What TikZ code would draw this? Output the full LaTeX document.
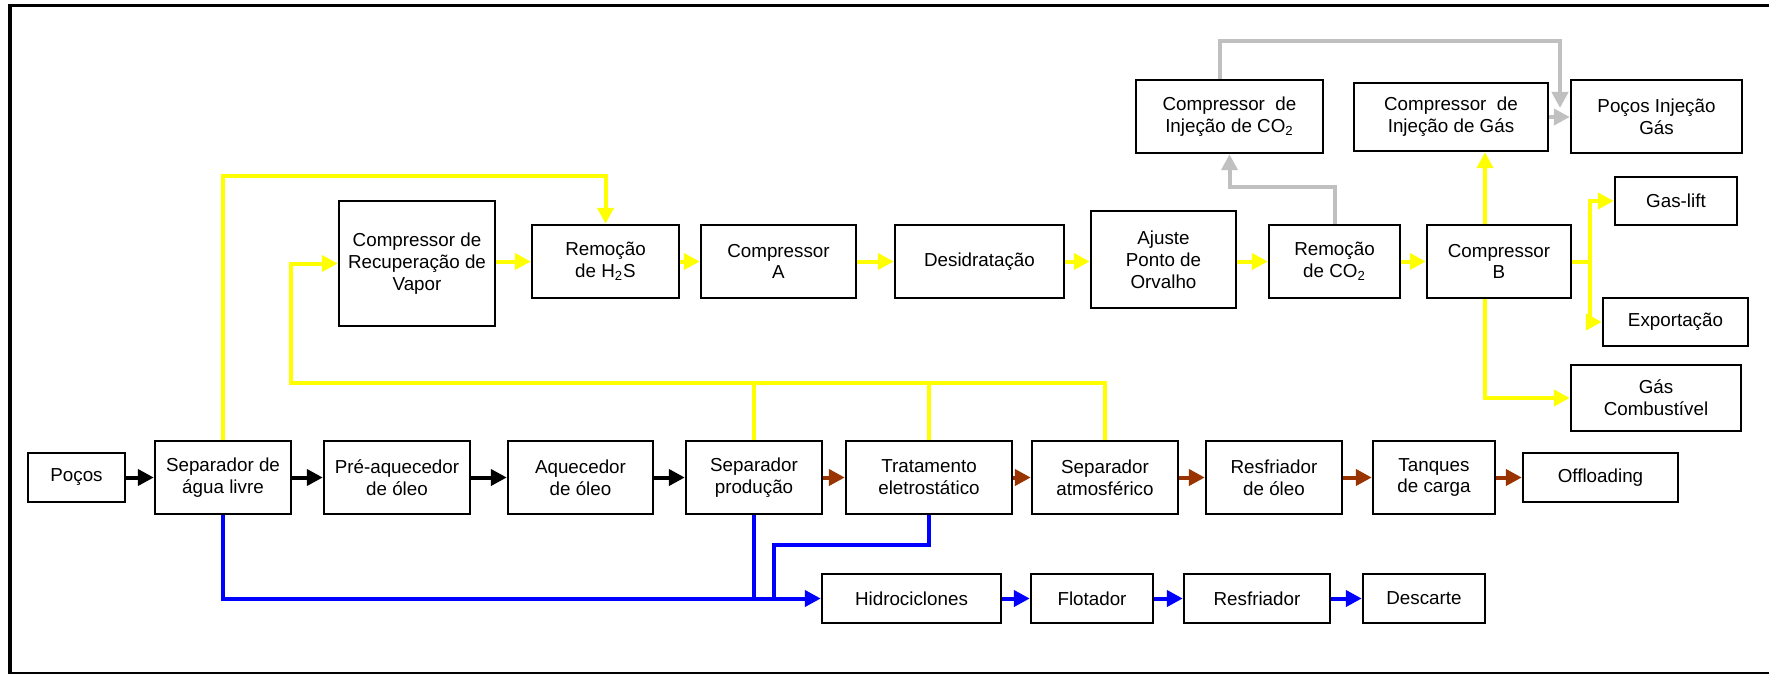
\documentclass[tikz,border=0pt]{standalone}
\usepackage{fontspec}
\setmainfont{Liberation Sans}
\usepackage{tikz}
\usetikzlibrary{arrows.meta,calc,positioning}
\definecolor{oilbrown}{RGB}{153,51,0}
\definecolor{gasyellow}{RGB}{255,255,0}
\definecolor{waterblue}{RGB}{0,0,255}
\definecolor{co2gray}{RGB}{192,192,192}

\begin{document}
\begin{tikzpicture}
[x=0.5pt, y=-0.5pt,
>={Triangle[length=8pt,width=8pt]},
box/.style={rectangle, draw, line width=1.2pt, align=center, inner sep=0pt, font=\fontsize{9.4}{10.9}\selectfont},
tallbox/.style={box, minimum height=36.5pt},
lowbox/.style={box, minimum height=24.5pt},
oilflow/.style={line width=2pt, ->, black},
crudeflow/.style={line width=2pt, ->, oilbrown},
waterline/.style={line width=2pt, waterblue},
waterflow/.style={waterline, ->},
gasline/.style={line width=2pt, gasyellow},
gasflow/.style={gasline, ->},
co2flow/.style={line width=2pt, ->, co2gray},
]
\useasboundingbox (0,0) rectangle (1769,674);
\draw[line width=1.7pt] (10,674) -- (10,5.5) -- (1769,5.5);
\draw[line width=0.8pt] (10,673) -- (1769,673);
%oil row
\node[lowbox, minimum width=48.5pt](pocos) at (76.5,477.5) {Poços};
\node[tallbox, minimum width=68pt](sal) at (223,477.5) {Separador de\\água livre};
\node[tallbox, minimum width=73pt](preaq) at (397,477.5) {Pré-aquecedor\\de óleo};
\node[tallbox, minimum width=72.5pt](aq) at (580.5,477.5) {Aquecedor\\de óleo};
\node[tallbox, minimum width=68pt](sprod) at (754,477.5) {Separador\\produção};
\node[tallbox, minimum width=83pt](trat) at (929,477.5) {Tratamento\\eletrostático};
\node[tallbox, minimum width=73pt](satm) at (1105,477.5) {Separador\\atmosférico};
\node[tallbox, minimum width=68pt](resfo) at (1274,477.5) {Resfriador\\de óleo};
\node[tallbox, minimum width=61pt](tanq) at (1434,477.5) {Tanques\\de carga};
\node[lowbox, minimum width=77.5pt](offl) at (1600.5,477.5) {Offloading};
%water row
\node[lowbox, minimum width=89.5pt](hidro) at (911.5,598.5) {Hidrociclones};
\node[lowbox, minimum width=61pt](flot) at (1092,598.5) {Flotador};
\node[lowbox, minimum width=73pt](resfr) at (1257,598.5) {Resfriador};
\node[lowbox, minimum width=61pt](desc) at (1424,598.5) {Descarte};
%gas row
\node[box, minimum width=78pt, minimum height=62.5pt](crv) at (417,263.5) {Compressor de\\Recuperação de\\Vapor};
\node[tallbox, minimum width=73.5pt](remh2s) at (605.5,261.5) {Remoção\\de H\textsubscript{2}S};
\node[tallbox, minimum width=77.5pt](compa) at (778.5,261.5) {Compressor\\A};
\node[tallbox, minimum width=84.5pt](desid) at (979.5,261.5) {Desidratação};
\node[box, minimum width=72.5pt, minimum height=48.5pt](ajuste) at (1163.5,259.5) {Ajuste\\Ponto de\\Orvalho};
\node[tallbox, minimum width=65.5pt](remco2) at (1334.5,261.5) {Remoção\\de CO\textsubscript{2}};
\node[tallbox, minimum width=72pt](compb) at (1499,261.5) {Compressor\\B};
%injection and gas users
\node[tallbox, minimum width=93.5pt](co2inj) at (1229.5,116.5) {Compressor\ \ de\\Injeção de CO\textsubscript{2}};
\node[box, minimum width=97pt, minimum height=34pt](cig) at (1451,117) {Compressor\ \ de\\Injeção de Gás};
\node[tallbox, minimum width=85.5pt](pig) at (1656.5,116.5) {Poços Injeção\\Gás};
\node[box, minimum width=61pt, minimum height=24pt](gaslift) at (1676,201) {Gas-lift};
\node[box, minimum width=72.5pt, minimum height=24pt](export) at (1675.5,322) {Exportação};
\node[box, minimum width=85pt, minimum height=33pt](gc) at (1656,398) {Gás\\Combustível};
%turning points
\coordinate (vrret) at (291,383);
\coordinate (wtrat) at (774,598.5);
\coordinate (gsplit) at (1590,261.5);
\coordinate (co2end) at (1560,108);
%draw line
\draw[oilflow] (pocos) -- (sal);
\draw[oilflow] (sal) -- (preaq);
\draw[oilflow] (preaq) -- (aq);
\draw[oilflow] (aq) -- (sprod);
\draw[crudeflow] (sprod) -- (trat);
\draw[crudeflow] (trat) -- (satm);
\draw[crudeflow] (satm) -- (resfo);
\draw[crudeflow] (resfo) -- (tanq);
\draw[crudeflow] (tanq) -- (offl);
% water
\draw[waterflow] (sal.south) |- (hidro.west);
\draw[waterline] (sprod.south) -- (sprod.south |- hidro.west);
\draw[waterline] (trat.south) -- ++(0,30) -| (wtrat);
\draw[waterflow] (hidro) -- (flot);
\draw[waterflow] (flot) -- (resfr);
\draw[waterflow] (resfr) -- (desc);
% gas
\draw[gasflow] (sal.north) -- ++(0,-264) -| (remh2s.north);
\draw[gasflow] (satm.north) |- (vrret) |- (crv.west);
\draw[gasline] (sprod.north) -- (sprod.north |- vrret);
\draw[gasline] (trat.north) -- (trat.north |- vrret);
\draw[gasflow] (crv.east |- remh2s.west) -- (remh2s.west);
\draw[gasflow] (remh2s) -- (compa);
\draw[gasflow] (compa) -- (desid);
\draw[gasflow] (desid) -- (desid -| ajuste.west);
\draw[gasflow] (ajuste.east |- remco2) -- (remco2);
\draw[gasflow] (remco2) -- (compb);
\draw[gasflow] ([xshift=-7pt]compb.north) -- ([xshift=-7pt]compb.north |- cig.south);
\draw[gasflow] ([xshift=-7pt]compb.south) |- (gc.west);
\draw[gasline] (compb.east) -- (gsplit);
\draw[gasflow] (gsplit) |- (gaslift.west);
\draw[gasflow] (gsplit) |- (export.west);
% co2
\draw[co2flow] (remco2.north) -- ++(0,-37) -| (co2inj.south);
\draw[co2flow] ([xshift=-4.75pt]co2inj.north) -- ++(0,-38) -| (co2end);
\draw[co2flow] (cig.east) -- (pig.west |- cig.east);
\end{tikzpicture}
\end{document}
